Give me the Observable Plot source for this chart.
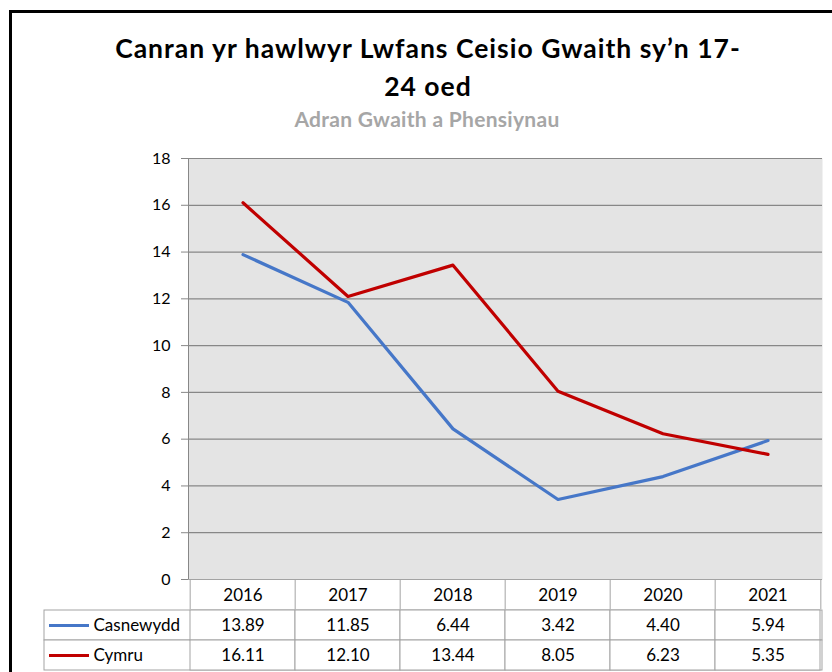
<!DOCTYPE html>
<html><head><meta charset="utf-8">
<script src="https://cdn.jsdelivr.net/npm/d3@7"></script>
<script src="https://cdn.jsdelivr.net/npm/@observablehq/plot@0.6"></script>
<style>
body{margin:0;background:#fff;}
#wrap{position:relative;width:832px;height:672px;overflow:hidden;background:#fff;font-family:Lato,sans-serif;}
#border{position:absolute;left:9px;top:10px;width:900px;height:700px;border-left:3px solid #000;border-top:3px solid #000;}
#title{position:absolute;left:0;top:29px;width:856px;text-align:center;font-weight:700;font-size:26.5px;letter-spacing:1px;line-height:38px;color:#000;}
#subtitle{position:absolute;left:0;top:107.5px;width:854px;text-align:center;font-weight:700;font-size:21px;letter-spacing:0.3px;line-height:22px;color:#a6a6a6;}
#chart{position:absolute;left:0;top:140px;}
#table{position:absolute;left:0;top:609px;}
</style></head>
<body>
<div id="wrap">
  <div id="border"></div>
  <div id="title"></div>
  <div id="subtitle"></div>
  <div id="chart"></div>
  <div id="table"></div>
</div>
<script>
const titleLines = ["Canran yr hawlwyr Lwfans Ceisio Gwaith sy’n 17-", "24 oed"];
const subtitle = "Adran Gwaith a Phensiynau";
const years = ["2016", "2017", "2018", "2019", "2020", "2021"];
const casnewydd = [13.89, 11.85, 6.44, 3.42, 4.40, 5.94];
const cymru = [16.11, 12.10, 13.44, 8.05, 6.23, 5.35];
const seriesNames = ["Casnewydd", "Cymru"];
const seriesColors = ["#4677c8", "#c00000"];
const yTicks = [0, 2, 4, 6, 8, 10, 12, 14, 16, 18];

document.getElementById("title").innerHTML = titleLines.join("<br>");
document.getElementById("subtitle").textContent = subtitle;

const seriesValues = [casnewydd, cymru];
const rows = seriesNames.flatMap((s, si) => years.map((yr, i) => ({series: s, year: yr, value: seriesValues[si][i]})));

const W = 832, ML = 188, MR = 10;
const bw = (W - ML - MR) / years.length;
const gridColor = "#878787";
const tableColor = "#a3a3a3";

const chart = Plot.plot({
  width: W, height: 469,
  marginTop: 18, marginBottom: 30, marginLeft: ML, marginRight: MR,
  style: {fontFamily: "Lato", fontSize: "16px", color: "#000", background: "transparent"},
  x: {type: "band", domain: years, padding: 0, axis: null},
  y: {domain: [0, 18], axis: null},
  color: {domain: seriesNames, range: seriesColors},
  marks: [
    Plot.frame({fill: "#e4e4e4", stroke: null}),
    Plot.gridY(yTicks, {stroke: gridColor, strokeOpacity: 1, strokeWidth: 1.2}),
    Plot.axisY({ticks: yTicks, tickSize: 7, tickPadding: 11, stroke: gridColor, fill: "#000", fontSize: 16, label: null}),
    Plot.axisX({tickSize: 0, tickPadding: 9, fontSize: 17, fill: "#000", label: null}),
    Plot.axisX({tickSize: 30, tickFormat: () => "", stroke: tableColor, dx: -bw / 2, label: null}),
    Plot.axisX({ticks: [years[years.length - 1]], tickSize: 30, tickFormat: () => "", stroke: tableColor, dx: bw / 2, label: null}),
    Plot.frame({anchor: "left", stroke: gridColor}),
    Plot.ruleY([0], {stroke: tableColor}),
    Plot.line(rows, {x: "year", y: "value", z: "series", stroke: "series", strokeWidth: 3.2, strokeLinejoin: "round"})
  ]
});
document.getElementById("chart").append(chart);

const table = Plot.plot({
  width: W, height: 62,
  marginTop: 0, marginBottom: 1, marginLeft: ML, marginRight: MR,
  style: {fontFamily: "Lato", fontSize: "17px", color: "#000", background: "transparent"},
  x: {type: "band", domain: years, padding: 0, axis: null},
  y: {type: "band", domain: seriesNames, padding: 0, axis: null},
  color: {domain: seriesNames, range: seriesColors},
  marks: [
    Plot.cell(seriesNames, {y: d => d, insetLeft: -144, fill: "white", stroke: tableColor}),
    Plot.cell(rows, {x: "year", y: "series", fill: "white", stroke: tableColor}),
    Plot.ruleY(seriesNames, {y: d => d, stroke: d => d, strokeWidth: 3, insetLeft: -139, insetRight: 733}),
    Plot.text(seriesNames, {y: d => d, text: d => d, frameAnchor: "left", textAnchor: "start", dx: -95, fontSize: 17, fill: "#000"}),
    Plot.text(rows, {x: "year", y: "series", text: d => d.value.toFixed(2), fontSize: 17, fill: "#000"})
  ]
});
document.getElementById("table").append(table);
</script>
</body></html>
